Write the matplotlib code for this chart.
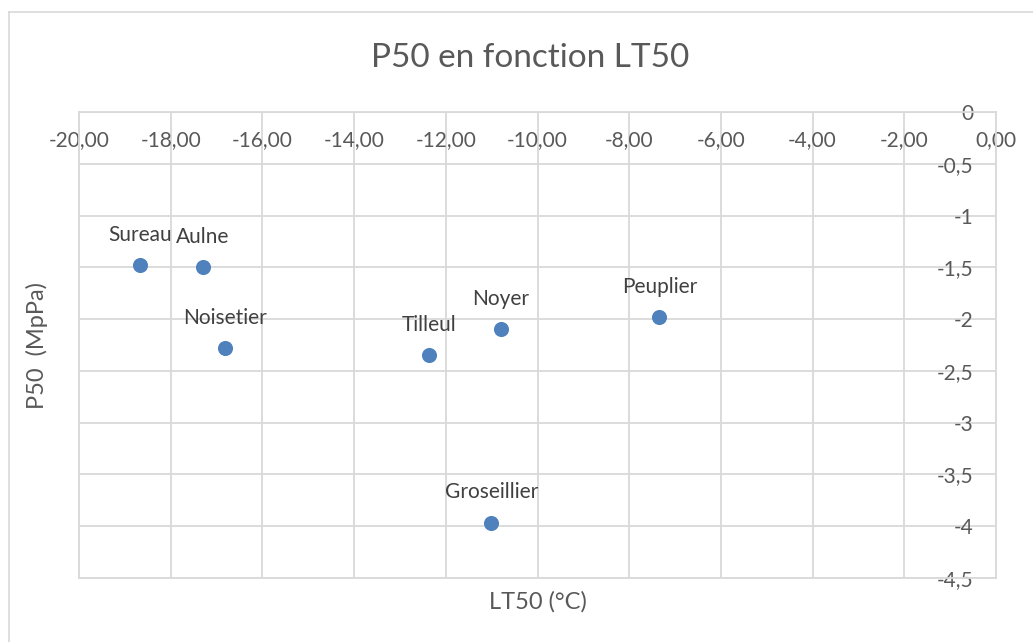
import matplotlib
matplotlib.use("Agg")
import matplotlib.pyplot as plt
from matplotlib.lines import Line2D

# ---- data ----
species = ["Sureau", "Aulne", "Noisetier", "Tilleul", "Noyer", "Peuplier", "Groseillier"]
lt50 = [-18.67, -17.30, -16.82, -12.37, -10.80, -7.34, -11.01]
p50 = [-1.48, -1.50, -2.28, -2.35, -2.10, -1.98, -3.97]

x_ticks = [-20, -18, -16, -14, -12, -10, -8, -6, -4, -2, 0]
x_tick_labels = ["-20,00", "-18,00", "-16,00", "-14,00", "-12,00", "-10,00",
                 "-8,00", "-6,00", "-4,00", "-2,00", "0,00"]
y_ticks = [0, -0.5, -1, -1.5, -2, -2.5, -3, -3.5, -4, -4.5]
y_tick_labels = ["0", "-0,5", "-1", "-1,5", "-2", "-2,5", "-3", "-3,5", "-4", "-4,5"]

title = "P50 en fonction LT50"
x_title = "LT50 (°C)"
y_title = "P50  (MpPa)"

# ---- style ----
plt.rcParams["font.family"] = ["Lato", "DejaVu Sans"]
TXT = "#595959"
GRID = "#d9d9d9"
BLUE = "#4F81BD"

W, H = 1033, 642
fig = plt.figure(figsize=(W / 100, H / 100), dpi=100)

# outer chart frame (only top and left edges visible in the crop)
fx, fy = 9 / W, 1 - 12 / H
fig.add_artist(Line2D([fx, 1.0], [fy, fy], transform=fig.transFigure,
                      color=GRID, linewidth=1.2))
fig.add_artist(Line2D([fx, fx], [0.0, fy], transform=fig.transFigure,
                      color=GRID, linewidth=1.2))

L, R, T, B = 79, 996, 112.3, 577.7
ax = fig.add_axes([L / W, 1 - B / H, (R - L) / W, (B - T) / H])
ax.set_xlim(-20, 0)
ax.set_ylim(-4.5, 0)

ax.scatter(lt50, p50, s=118, color=BLUE, zorder=3, linewidths=0)
for name, x, y in zip(species, lt50, p50):
    ax.annotate(name, (x, y), xytext=(0, 22), textcoords="offset points",
                ha="center", va="center", fontsize=15, color="#404040")

ax.set_xticks(x_ticks)
ax.set_xticklabels(x_tick_labels)
ax.set_yticks(y_ticks)
ax.set_yticklabels(y_tick_labels)

ax.xaxis.tick_top()
ax.yaxis.tick_right()
ax.tick_params(axis="x", length=0, pad=-27, labelsize=15, labelcolor=TXT)
ax.tick_params(axis="y", length=0, pad=-16.5, labelsize=15, labelcolor=TXT)
for lab in ax.get_yticklabels():
    lab.set_ha("right")

ax.grid(True, color=GRID, linewidth=1.3)
ax.set_axisbelow(True)
for sp in ax.spines.values():
    sp.set_color(GRID)
    sp.set_linewidth(1.3)

ax.set_xlabel(x_title, fontsize=17, color=TXT)
ax.xaxis.set_label_position("bottom")
ax.xaxis.set_label_coords(0.5, -(602 - B) / (B - T))
ax.xaxis.label.set_va("center")

ax.set_ylabel(y_title, fontsize=17, color=TXT)
ax.yaxis.set_label_position("left")
ax.yaxis.set_label_coords((37 - L) / (R - L), 0.5)
ax.yaxis.label.set_va("center")

fig.text(530 / W, 1 - 58 / H, title, ha="center", va="center", fontsize=24, color=TXT)

fig.savefig("out.png", dpi=100)
